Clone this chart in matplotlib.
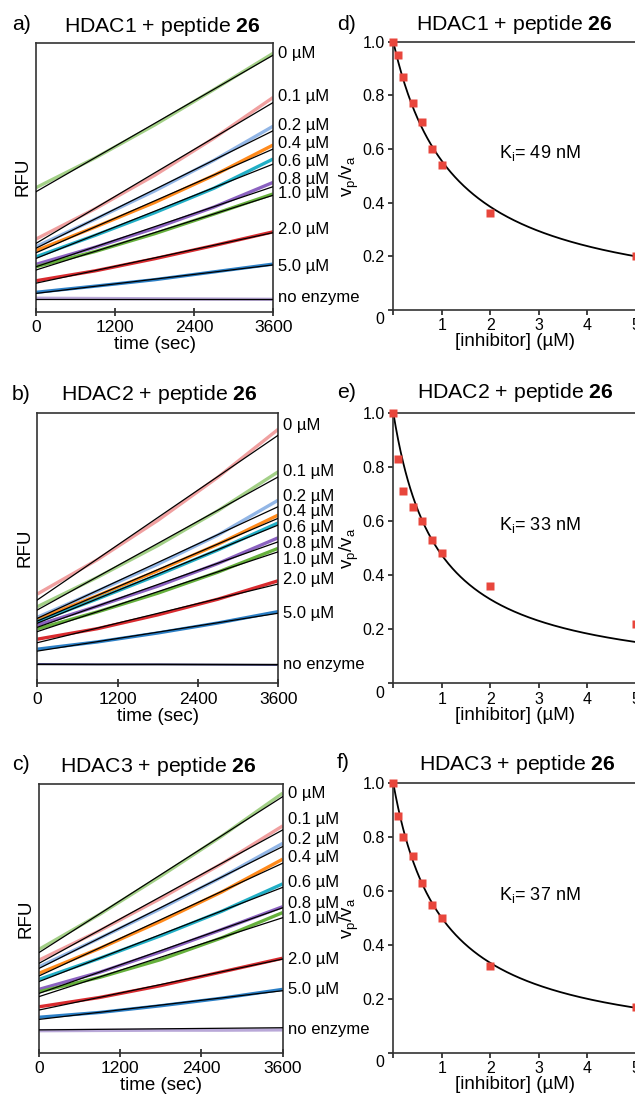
import numpy as np
import matplotlib.pyplot as plt

plt.rcParams['font.family'] = ['Liberation Sans', 'DejaVu Sans']
plt.rcParams['mathtext.fontset'] = 'custom'
plt.rcParams['mathtext.rm'] = 'Liberation Sans'
plt.rcParams['mathtext.it'] = 'Liberation Sans:italic'
plt.rcParams['mathtext.bf'] = 'Liberation Sans:bold'

W, H = 635, 1102

# ---- progress curves (left column), RFU in arbitrary units ----
time_s = [0, 900, 1800, 2700, 3600]
conc_labels = ['0 µM', '0.1 µM', '0.2 µM', '0.4 µM', '0.6 µM', '0.8 µM',
               '1.0 µM', '2.0 µM', '5.0 µM', 'no enzyme']

rfu_a = [[461, 572, 694, 826, 961],
         [270, 383, 507, 645, 797],
         [242, 344, 449, 563, 690],
         [227, 315, 406, 507, 620],
         [204, 284, 368, 459, 568],
         [176, 240, 310, 389, 481],
         [167, 224, 290, 363, 438],
         [115, 152, 197, 246, 297],
         [72, 95, 119, 148, 177],
         [50, 49, 48, 47, 46]]
fit_a = [(446, 954), (254, 778), (236, 673), (219, 605), (198, 549),
         (167, 465), (155, 433), (106, 294), (68, 174), (47, 47)]
label_y_a = [960, 799, 694, 626, 558, 490, 440, 304, 167, 52]

rfu_b = [[330, 457, 602, 762, 939],
         [283, 392, 509, 638, 782],
         [244, 341, 440, 548, 677],
         [236, 324, 416, 514, 622],
         [228, 312, 400, 493, 593],
         [215, 285, 359, 443, 538],
         [201, 264, 333, 411, 499],
         [163, 202, 253, 311, 379],
         [126, 153, 186, 223, 265],
         [71, 70, 70, 69, 68]]
fit_b = [(308, 917), (271, 763), (240, 653), (230, 610), (222, 585),
         (207, 523), (191, 486), (150, 367), (119, 259), (70, 70)]
label_y_b = [954, 782, 692, 634, 576, 517, 458, 382, 259, 71]

rfu_c = [[385, 516, 658, 807, 967],
         [345, 455, 575, 704, 845],
         [320, 427, 537, 654, 780],
         [296, 389, 490, 599, 721],
         [273, 352, 436, 527, 629],
         [236, 300, 376, 459, 544],
         [227, 281, 347, 428, 522],
         [171, 206, 250, 301, 352],
         [132, 150, 175, 203, 236],
         [82, 83, 84, 84, 85]]
fit_c = [(373, 954), (333, 830), (314, 768), (286, 706), (265, 616),
         (221, 540), (209, 503), (159, 349), (124, 231), (85, 93)]
label_y_c = [966, 867, 793, 727, 633, 557, 501, 348, 234, 87]

# ---- inhibition (right column) ----
inhibitor_uM = [0, 0.1, 0.2, 0.4, 0.6, 0.8, 1.0, 2.0, 5.0]
vpva_d = [1.0, 0.95, 0.87, 0.77, 0.70, 0.60, 0.54, 0.36, 0.20]
vpva_e = [1.0, 0.83, 0.71, 0.65, 0.60, 0.53, 0.48, 0.36, 0.22]
vpva_f = [1.0, 0.88, 0.80, 0.73, 0.63, 0.55, 0.50, 0.32, 0.17]
ic50_d, ic50_e, ic50_f = 1.25, 0.90, 1.00   # apparent, from the fitted curves
ki_text = ['49', '33', '37']

lgreen, pink, lblue = '#a3d087', '#f0a0a0', '#92b6e6'
orange, cyan, purple = '#ff8a1c', '#22afc6', '#8b62c0'
green, red, blue = '#66b03c', '#d92b2f', '#2b7fc6'
lavender, navy = '#b9a8d8', '#23235a'
colors_a = [lgreen, pink, lblue, orange, cyan, purple, green, red, blue, lavender]
colors_b = [pink, lgreen, lblue, orange, cyan, purple, green, red, blue, navy]
colors_c = [lgreen, pink, lblue, orange, cyan, purple, green, red, blue, lavender]

fig = plt.figure(figsize=(W / 100, H / 100), dpi=100)


def px_axes(left, top, right, bottom):
    return fig.add_axes([left / W, 1 - bottom / H, (right - left) / W, (bottom - top) / H])


def fig_text(x, y, s, **kw):
    fig.text(x / W, 1 - y / H, s, va='center', **kw)


spine_col = '#333333'


def progress_panel(ax, rfu, fit, label_y, colors):
    for row, (y0, y1), col in zip(rfu, fit, colors):
        lw = 1.4 if col == navy else 2.4
        ax.plot(time_s, row, color=col, lw=lw, solid_capstyle='butt', zorder=2)
        ax.plot([time_s[0], time_s[-1]], [y0, y1], color='black', lw=0.9, zorder=3)
    for lab, y in zip(conc_labels, label_y):
        ax.annotate(lab, xy=(1, y), xycoords=ax.get_yaxis_transform(),
                    xytext=(3.5, 0), textcoords='offset points',
                    ha='left', va='center', fontsize=12)
    ax.set_xlim(0, 3600)
    ax.set_ylim(0, 1000)
    ax.set_xticks([0, 1200, 2400, 3600])
    ax.set_yticks([])
    ax.tick_params(axis='x', direction='inout', length=6, width=1.3,
                   labelsize=12.5, pad=3, color=spine_col)
    for sp in ax.spines.values():
        sp.set_color(spine_col)
        sp.set_linewidth(1.2)
    ax.set_xlabel('time (sec)', fontsize=13.5, labelpad=1)
    ax.set_ylabel('RFU', fontsize=13.5, labelpad=3)


def inhibition_panel(ax, vals, ic50, ki):
    xs = np.linspace(0, 5, 300)
    ax.plot(xs, 1 / (1 + xs / ic50), color='black', lw=1.3, zorder=2)
    ax.plot(inhibitor_uM, vals, ls='none', marker='s', ms=5.6,
            color='#e8463c', mec='none', zorder=3, clip_on=False)
    ax.set_xlim(0, 5)
    ax.set_ylim(0, 1.0)
    ax.set_xticks([0, 1, 2, 3, 4, 5], ['', '1', '2', '3', '4', '5'])
    ax.set_yticks([0, 0.2, 0.4, 0.6, 0.8, 1.0], ['', '0.2', '0.4', '0.6', '0.8', '1.0'])
    ax.tick_params(direction='out', length=3.5, width=1.3, labelsize=11.5,
                   pad=2.5, color=spine_col)
    for sp in ax.spines.values():
        sp.set_color(spine_col)
        sp.set_linewidth(1.2)
    ax.annotate('0', xy=(0, 0), xycoords='axes fraction', xytext=(-10, -7),
                textcoords='offset points', ha='center', va='center', fontsize=11.5)
    ax.text(2.17, 0.585, r'K$_{\mathrm{i}}$= ' + ki + ' nM', fontsize=13, va='center')
    ax.set_xlabel('[inhibitor] (µM)', fontsize=13.5, labelpad=0)
    ax.set_ylabel(r'v$_{\mathrm{p}}$/v$_{\mathrm{a}}$', fontsize=13.5, labelpad=1)


ax_a = px_axes(36, 42.7, 273.3, 311.7)
ax_b = px_axes(37.3, 412.7, 278.3, 683.3)
ax_c = px_axes(39, 784.3, 282.7, 1052.7)
ax_d = px_axes(393.3, 41.7, 635.8, 310)
ax_e = px_axes(393.3, 412.7, 635.8, 683.3)
ax_f = px_axes(393.3, 783.3, 635.8, 1052.7)

progress_panel(ax_a, rfu_a, fit_a, label_y_a, colors_a)
progress_panel(ax_b, rfu_b, fit_b, label_y_b, colors_b)
progress_panel(ax_c, rfu_c, fit_c, label_y_c, colors_c)
inhibition_panel(ax_d, vpva_d, ic50_d, ki_text[0])
inhibition_panel(ax_e, vpva_e, ic50_e, ki_text[1])
inhibition_panel(ax_f, vpva_f, ic50_f, ki_text[2])

# panel letters and titles
title_fs = 15.3
for lab, x, y in [('a)', 12, 25), ('b)', 12, 394), ('c)', 12, 765),
                  ('d)', 337, 24), ('e)', 337, 392), ('f)', 337, 763)]:
    fig_text(x, y, lab, fontsize=title_fs, ha='left')
for n, x, y in [(1, 162.5, 26), (2, 159, 394), (3, 158, 766),
                (1, 514, 24), (2, 515.5, 393), (3, 517, 764)]:
    fig_text(x, y, 'HDAC%d + peptide $\\mathbf{26}$' % n, fontsize=title_fs, ha='center')

fig.savefig('out.png', dpi=100)
